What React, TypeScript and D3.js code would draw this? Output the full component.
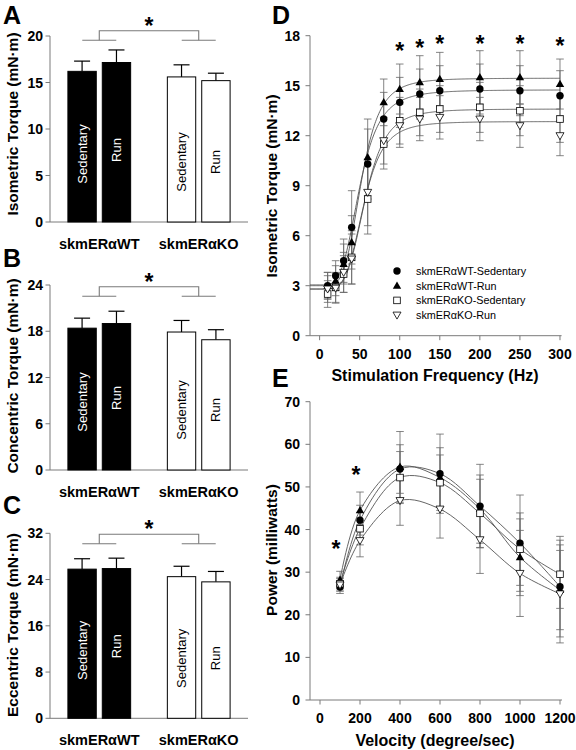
import React from "react";
import * as d3 from "d3";

const FONT = "'Liberation Sans', Arial, Helvetica, sans-serif";
const AXIS = "#7a7a7a";
const ERR = "#666";

// ---------- Bar panels (A, B, C) ----------
const groups = ["skmERαWT", "skmERαKO"];
const conditions = ["Sedentary", "Run"];

const isoMeans = [16.2, 17.15, 15.6, 15.2];
const isoErr = [1.1, 1.35, 1.3, 0.8];
const isoTicks = [0, 5, 10, 15, 20];

const conMeans = [18.4, 19.0, 17.9, 16.9];
const conErr = [1.3, 1.6, 1.5, 1.3];
const conTicks = [0, 6, 12, 18, 24];

const eccMeans = [25.8, 25.9, 24.5, 23.6];
const eccErr = [1.8, 1.8, 1.8, 1.8];
const eccTicks = [0, 8, 16, 24, 32];

// ---------- Panel D ----------
const freqs = [10, 20, 30, 40, 60, 80, 100, 125, 150, 200, 250, 300];
const seriesNames = [
  "skmERαWT-Sedentary",
  "skmERαWT-Run",
  "skmERαKO-Sedentary",
  "skmERαKO-Run",
];
const dWTSed = [3.0, 3.6, 4.5, 6.5, 10.3, 13.0, 14.0, 14.5, 14.7, 14.8, 14.7, 14.4];
const dWTRun = [3.0, 3.3, 4.3, 5.6, 10.7, 14.0, 14.8, 15.2, 15.4, 15.5, 15.5, 15.1];
const dKOSed = [2.5, 2.9, 3.7, 4.7, 8.2, 11.5, 12.9, 13.4, 13.6, 13.7, 13.5, 13.0];
const dKORun = [2.8, 2.85, 3.8, 4.6, 8.6, 11.7, 12.6, 13.0, 13.1, 13.0, 12.6, 12.0];
const dWTSedErr = [0.8, 0.9, 1.3, 2.2, 2.1, 1.6, 1.5, 1.5, 1.5, 1.5, 1.5, 1.5];
const dWTRunErr = [0.8, 0.9, 1.2, 1.6, 2.3, 1.4, 1.5, 1.6, 1.6, 1.6, 1.6, 1.5];
const dKOSedErr = [0.8, 0.9, 1.1, 1.6, 2.1, 1.5, 1.4, 1.4, 1.4, 1.5, 1.5, 1.4];
const dKORunErr = [0.8, 0.9, 1.2, 1.5, 2.0, 1.4, 1.3, 1.3, 1.3, 1.3, 1.3, 1.2];
// sigmoid (Hill) fit parameters per series
const hillMin = [3.05, 3.0, 2.8, 2.8];
const hillMax = [14.75, 15.45, 13.6, 12.85];
const hillEC50 = [50, 52, 57, 55];
const hillN = [4, 4.5, 4.5, 4.5];
const dStarFreqs = [100, 125, 150, 200, 250, 300];
const dStarVals = [17.4, 17.6, 17.8, 17.8, 17.8, 17.7];
const dYTicks = [0, 3, 6, 9, 12, 15, 18];
const dXTicks = [0, 50, 100, 150, 200, 250, 300];

// ---------- Panel E ----------
const velocities = [100, 200, 400, 600, 800, 1000, 1200];
const eWTSed = [26.5, 42.2, 54.2, 53.1, 45.5, 36.8, 26.6];
const eWTRun = [28.2, 44.5, 54.7, 52.2, 44.8, 33.5, 25.8];
const eKOSed = [27.3, 40.2, 52.2, 51.0, 43.8, 35.4, 29.5];
const eKORun = [27.0, 37.4, 46.8, 44.8, 37.6, 29.7, 24.9];
const eWTSedErr = [1.5, 3.5, 5.7, 9.3, 9.8, 11.3, 11.8];
const eWTRunErr = [2.0, 4.3, 8.3, 7.0, 8.0, 9.0, 9.3];
const eKOSedErr = [1.5, 3.8, 6.1, 6.5, 8.0, 8.5, 8.0];
const eKORunErr = [1.5, 3.8, 5.8, 6.8, 7.9, 10.1, 11.5];
const eStarVel = [80, 180];
const eStarVals = [36.6, 54];
const eYTicks = [0, 10, 20, 30, 40, 50, 60, 70];
const eXTicks = [0, 200, 400, 600, 800, 1000, 1200];

const markers = ["circle", "triangle", "square", "downtri"];

function Marker({ kind, x, y }: { kind: string; x: number; y: number }) {
  if (kind === "circle") return <circle cx={x} cy={y} r={3.7} fill="#000" />;
  if (kind === "triangle")
    return <path d={`M${x},${y - 4.3}L${x + 4.2},${y + 3}L${x - 4.2},${y + 3}Z`} fill="#000" />;
  if (kind === "square")
    return <rect x={x - 3.3} y={y - 3.3} width={6.6} height={6.6} fill="#fff" stroke="#000" strokeWidth={0.8} />;
  return (
    <path d={`M${x - 4},${y - 3}L${x + 4},${y - 3}L${x},${y + 4}Z`} fill="#fff" stroke="#000" strokeWidth={0.8} />
  );
}

function Star({ x, y, size = 23 }: { x: number; y: number; size?: number }) {
  return (
    <text x={x} y={y + size * 0.58} textAnchor="middle" fontSize={size} fontWeight="bold" fontFamily={FONT}>
      *
    </text>
  );
}

type BarCfg = {
  means: number[];
  errs: number[];
  ticks: number[];
  top: number;
  bottom: number;
  letter: string;
  letterY: number;
  title: string;
  titleY: number;
  bracketTop: number;
};

const textOffsets = [-68, -72, -60, -60];

function BarPanel({ cfg }: { cfg: BarCfg }) {
  const y = d3.scaleLinear().domain([0, cfg.ticks[cfg.ticks.length - 1]]).range([cfg.bottom, cfg.top]);
  const gx = d3.scaleBand().domain(groups).range([50, 248]).paddingInner(0.369).paddingOuter(0.18);
  const cx = d3.scaleBand().domain(conditions).range([0, gx.bandwidth()]).paddingInner(0.175);
  const bw = cx.bandwidth();
  const gc = (g: string) => (gx(g) as number) + gx.bandwidth() / 2;
  const bt = cfg.bracketTop;
  return (
    <g>
      <text x={3} y={cfg.letterY} fontSize={25} fontWeight="bold" fontFamily={FONT}>
        {cfg.letter}
      </text>
      <text
        transform={`translate(12,${cfg.titleY}) rotate(-90)`}
        textAnchor="middle"
        dominantBaseline="central"
        fontSize={15.5}
        fontWeight="bold"
        fontFamily={FONT}
      >
        {cfg.title}
      </text>
      <line x1={50} x2={50} y1={cfg.top} y2={cfg.bottom} stroke={AXIS} strokeWidth={1} />
      <line x1={50} x2={248} y1={cfg.bottom} y2={cfg.bottom} stroke={AXIS} strokeWidth={1} />
      {cfg.ticks.map((t) => (
        <g key={t}>
          <line x1={45.5} x2={50} y1={y(t)} y2={y(t)} stroke={AXIS} strokeWidth={1} />
          <text
            x={43}
            y={y(t)}
            textAnchor="end"
            dominantBaseline="central"
            fontSize={14}
            fontWeight="bold"
            fontFamily={FONT}
          >
            {t}
          </text>
        </g>
      ))}
      {cfg.means.map((m, i) => {
        const g = groups[Math.floor(i / 2)];
        const c = conditions[i % 2];
        const x0 = (gx(g) as number) + (cx(c) as number);
        const xc = x0 + bw / 2;
        const dark = Math.floor(i / 2) === 0;
        return (
          <g key={i}>
            <line x1={xc} x2={xc} y1={y(m)} y2={y(m + cfg.errs[i])} stroke="#000" strokeWidth={1.2} />
            <line x1={xc - 8} x2={xc + 8} y1={y(m + cfg.errs[i])} y2={y(m + cfg.errs[i])} stroke="#000" strokeWidth={1.2} />
            <rect
              x={x0}
              y={y(m)}
              width={bw}
              height={cfg.bottom - y(m)}
              fill={dark ? "#000" : "#fff"}
              stroke="#000"
              strokeWidth={1}
            />
            <text
              transform={`translate(${xc},${cfg.bottom + textOffsets[i]}) rotate(-90)`}
              textAnchor="middle"
              dominantBaseline="central"
              fontSize={13}
              fill={dark ? "#fff" : "#000"}
              fontFamily={FONT}
            >
              {c}
            </text>
          </g>
        );
      })}
      <g stroke={AXIS} strokeWidth={1.1} fill="none">
        <path d={`M${gc(groups[0])},${bt + 9.5}V${bt}H${gc(groups[1])}V${bt + 9.5}`} />
        <line x1={gc(groups[0]) - 17} x2={gc(groups[0]) + 17} y1={bt + 9.5} y2={bt + 9.5} />
        <line x1={gc(groups[1]) - 17} x2={gc(groups[1]) + 17} y1={bt + 9.5} y2={bt + 9.5} />
      </g>
      <Star x={(gc(groups[0]) + gc(groups[1])) / 2} y={bt - 10.5} />
      {groups.map((g) => (
        <text
          key={g}
          x={gc(g)}
          y={cfg.bottom + 27}
          textAnchor="middle"
          fontSize={14.5}
          fontWeight="bold"
          fontFamily={FONT}
        >
          {g}
        </text>
      ))}
    </g>
  );
}

function LineAxes({
  x,
  y,
  xTicks,
  yTicks,
  x0,
  x1,
}: {
  x: d3.ScaleLinear<number, number>;
  y: d3.ScaleLinear<number, number>;
  xTicks: number[];
  yTicks: number[];
  x0: number;
  x1: number;
}) {
  const yb = y(yTicks[0]);
  const yt = y(yTicks[yTicks.length - 1]);
  return (
    <g>
      <line x1={x0} x2={x0} y1={yt} y2={yb} stroke={AXIS} strokeWidth={1} />
      <line x1={x0} x2={x1} y1={yb} y2={yb} stroke={AXIS} strokeWidth={1} />
      {yTicks.map((t) => (
        <g key={"y" + t}>
          <line x1={x0 - 4.5} x2={x0} y1={y(t)} y2={y(t)} stroke={AXIS} />
          <text x={x0 - 10} y={y(t)} textAnchor="end" dominantBaseline="central" fontSize={14} fontWeight="bold" fontFamily={FONT}>
            {t}
          </text>
        </g>
      ))}
      {xTicks.map((t) => (
        <g key={"x" + t}>
          <line x1={x(t)} x2={x(t)} y1={yb} y2={yb + 4.5} stroke={AXIS} />
          <text x={x(t)} y={yb + 18} textAnchor="middle" dominantBaseline="central" fontSize={14} fontWeight="bold" fontFamily={FONT}>
            {t}
          </text>
        </g>
      ))}
    </g>
  );
}

function ErrBar({ x, y1, y2 }: { x: number; y1: number; y2: number }) {
  return (
    <g stroke={ERR} strokeWidth={0.8}>
      <line x1={x} x2={x} y1={y1} y2={y2} />
      <line x1={x - 3.8} x2={x + 3.8} y1={y1} y2={y1} />
      <line x1={x - 3.8} x2={x + 3.8} y1={y2} y2={y2} />
    </g>
  );
}

function PanelD() {
  const x = d3.scaleLinear().domain([-12, 302]).range([310, 561.6]);
  const y = d3.scaleLinear().domain([0, 18]).range([335.7, 35.7]);
  const vals = [dWTSed, dWTRun, dKOSed, dKORun];
  const errs = [dWTSedErr, dWTRunErr, dKOSedErr, dKORunErr];
  const grid = d3.range(-12, 301, 1);
  return (
    <g>
      <text x={272} y={24} fontSize={25} fontWeight="bold" fontFamily={FONT}>
        D
      </text>
      <text
        transform="translate(271,186) rotate(-90)"
        textAnchor="middle"
        dominantBaseline="central"
        fontSize={15.5}
        fontWeight="bold"
        fontFamily={FONT}
      >
        Isometric Torque (mN·m)
      </text>
      <text x={435} y={381} textAnchor="middle" fontSize={16} fontWeight="bold" fontFamily={FONT}>
        Stimulation Frequency (Hz)
      </text>
      <LineAxes x={x} y={y} xTicks={dXTicks} yTicks={dYTicks} x0={310} x1={561.6} />
      {vals.map((s, k) =>
        s.map((v, i) => (
          <ErrBar key={k + "-" + i} x={x(freqs[i])} y1={y(v - errs[k][i])} y2={y(v + errs[k][i])} />
        ))
      )}
      {vals.map((_, k) => {
        const fit = (f: number) => {
          const ff = Math.max(0, f);
          const p = Math.pow(ff / hillEC50[k], hillN[k]);
          return hillMin[k] + (hillMax[k] - hillMin[k]) * (p / (1 + p));
        };
        const l = d3
          .line<number>()
          .x((f) => x(f))
          .y((f) => y(fit(f)))
          .curve(d3.curveMonotoneX);
        return <path key={"c" + k} d={l(grid) || ""} fill="none" stroke="#555" strokeWidth={0.9} />;
      })}
      {vals.map((s, k) =>
        s.map((v, i) => <Marker key={"m" + k + "-" + i} kind={markers[k]} x={x(freqs[i])} y={y(v)} />)
      )}
      {dStarFreqs.map((f, i) => (
        <Star key={"s" + f} x={x(f)} y={y(dStarVals[i])} />
      ))}
      {seriesNames.map((n, k) => (
        <g key={n}>
          <Marker kind={markers[k]} x={397} y={271 + k * 14.7} />
          <text x={416} y={271 + k * 14.7} dominantBaseline="central" fontSize={10.8} fontFamily={FONT}>
            {n}
          </text>
        </g>
      ))}
    </g>
  );
}

function PanelE() {
  const x = d3.scaleLinear().domain([-50, 1210]).range([310, 562]);
  const y = d3.scaleLinear().domain([0, 70]).range([700, 401.7]);
  const vals = [eWTSed, eWTRun, eKOSed, eKORun];
  const errs = [eWTSedErr, eWTRunErr, eKOSedErr, eKORunErr];
  return (
    <g>
      <text x={272} y={387} fontSize={25} fontWeight="bold" fontFamily={FONT}>
        E
      </text>
      <text
        transform="translate(271,550) rotate(-90)"
        textAnchor="middle"
        dominantBaseline="central"
        fontSize={15.5}
        fontWeight="bold"
        fontFamily={FONT}
      >
        Power (milliwatts)
      </text>
      <text x={435} y={746} textAnchor="middle" fontSize={16} fontWeight="bold" fontFamily={FONT}>
        Velocity (degree/sec)
      </text>
      <LineAxes x={x} y={y} xTicks={eXTicks} yTicks={eYTicks} x0={310} x1={562} />
      {vals.map((s, k) =>
        s.map((v, i) => (
          <ErrBar key={k + "-" + i} x={x(velocities[i])} y1={y(v - errs[k][i])} y2={y(v + errs[k][i])} />
        ))
      )}
      {vals.map((s, k) => {
        const l = d3
          .line<number>()
          .x((_, i) => x(velocities[i]))
          .y((v) => y(v))
          .curve(d3.curveCatmullRom.alpha(0.5));
        return <path key={"c" + k} d={l(s) || ""} fill="none" stroke="#555" strokeWidth={0.9} />;
      })}
      {vals.map((s, k) =>
        s.map((v, i) => <Marker key={"m" + k + "-" + i} kind={markers[k]} x={x(velocities[i])} y={y(v)} />)
      )}
      {eStarVel.map((v, i) => (
        <Star key={"s" + v} x={x(v)} y={y(eStarVals[i])} />
      ))}
    </g>
  );
}

export default function App() {
  const panels: BarCfg[] = [
    { means: isoMeans, errs: isoErr, ticks: isoTicks, top: 36, bottom: 222, letter: "A", letterY: 24, title: "Isometric Torque (mN·m)", titleY: 124, bracketTop: 30.7 },
    { means: conMeans, errs: conErr, ticks: conTicks, top: 285, bottom: 470, letter: "B", letterY: 267, title: "Concentric Torque (mN·m)", titleY: 376, bracketTop: 286.7 },
    { means: eccMeans, errs: eccErr, ticks: eccTicks, top: 533.3, bottom: 718.3, letter: "C", letterY: 514, title: "Eccentric Torque (mN·m)", titleY: 625, bracketTop: 534.3 },
  ];
  return (
    <svg
      width={576}
      height={750}
      viewBox="0 0 576 750"
      style={{ position: "absolute", left: 0, top: 0, background: "#fff" }}
    >
      <rect width={576} height={750} fill="#fff" />
      {panels.map((p) => (
        <BarPanel key={p.letter} cfg={p} />
      ))}
      <PanelD />
      <PanelE />
    </svg>
  );
}
